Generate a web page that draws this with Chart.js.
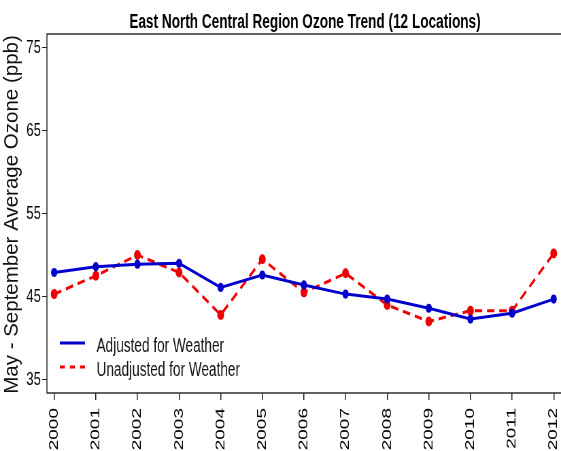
<!DOCTYPE html>
<html>
<head>
<meta charset="utf-8">
<script src="https://cdn.jsdelivr.net/npm/chart.js@4.4.1/dist/chart.umd.min.js"></script>
<style>
    html, body { margin: 0; padding: 0; overflow: hidden; background: #fff; }
    /* the original picture uses narrow lettering, so the chart is drawn wider and squeezed */
    #wrap { width: 897px; height: 451px; transform: scaleX(0.68); transform-origin: 0 0; }
</style>
</head>
<body>
<div id="wrap"><canvas id="ozoneChart" width="897" height="451"></canvas></div>
<script>
const years = [2000, 2001, 2002, 2003, 2004, 2005, 2006, 2007, 2008, 2009, 2010, 2011, 2012];
const adjusted = [47.9, 48.6, 48.9, 49.0, 46.1, 47.6, 46.4, 45.3, 44.7, 43.6, 42.3, 43.0, 44.7];
const unadjusted = [45.3, 47.5, 50.0, 47.9, 42.8, 49.5, 45.5, 47.8, 44.0, 42.0, 43.3, 43.3, 50.2];
const yTicks = [35, 45, 55, 65, 75];
const seriesLabels = ['Adjusted for Weather', 'Unadjusted for Weather'];
const yTitle = 'May - September Average Ozone (ppb)';

const squeeze = 0.68;
const fontFamily = '"Liberation Sans", Arial, sans-serif';

function toPoints(values) {
    return years.map((year, i) => ({ x: year, y: values[i] }));
}

// box round the plot (its right side falls outside the picture)
const frame = {
    id: 'frame',
    afterDraw(chart) {
        const { ctx, chartArea } = chart;
        ctx.save();
        ctx.strokeStyle = '#222';
        ctx.lineWidth = 1.4;
        ctx.strokeRect(chartArea.left, chartArea.top, chartArea.right - chartArea.left, chartArea.bottom - chartArea.top);
        ctx.restore();
    }
};

// y axis title, drawn unsqueezed since the original one is not narrow
const axisTitle = {
    id: 'axisTitle',
    afterDraw(chart) {
        const { ctx, chartArea } = chart;
        ctx.save();
        ctx.translate(17.5, (chartArea.top + chartArea.bottom) / 2 + 1);
        ctx.scale(1 / squeeze, 1);
        ctx.rotate(-Math.PI / 2);
        ctx.fillStyle = '#111';
        ctx.font = '20.5px ' + fontFamily;
        ctx.textAlign = 'center';
        ctx.textBaseline = 'middle';
        ctx.fillText(yTitle, 0, 0);
        ctx.restore();
    }
};

// legend inside the plot, lower left
const insideLegend = {
    id: 'insideLegend',
    afterDatasetsDraw(chart) {
        const { ctx, chartArea } = chart;
        ctx.save();
        chart.data.datasets.forEach((ds, i) => {
            const y = chartArea.bottom - 50 + i * 24;
            ctx.beginPath();
            ctx.strokeStyle = ds.borderColor;
            ctx.lineWidth = 3;
            ctx.setLineDash(i === 0 ? [] : [7.4, 7.4]);
            ctx.moveTo(chartArea.left + 19, y);
            ctx.lineTo(chartArea.left + 56, y);
            ctx.stroke();
            ctx.setLineDash([]);
            ctx.fillStyle = '#111';
            ctx.font = '20px ' + fontFamily;
            ctx.textBaseline = 'middle';
            ctx.fillText(ds.label, chartArea.left + 73, y + 3);
        });
        ctx.restore();
    }
};

new Chart(document.getElementById('ozoneChart'), {
    type: 'line',
    data: {
        datasets: [
            {
                label: seriesLabels[0],
                data: toPoints(adjusted),
                borderColor: '#0000cd',
                backgroundColor: '#0000cd',
                borderWidth: 3,
                pointRadius: 4.6,
                pointBorderWidth: 0,
                tension: 0
            },
            {
                label: seriesLabels[1],
                data: toPoints(unadjusted),
                borderColor: '#ee0000',
                backgroundColor: '#ee0000',
                borderWidth: 3,
                borderDash: [11, 7],
                pointRadius: 5,
                pointBorderWidth: 0,
                tension: 0
            }
        ]
    },
    options: {
        responsive: false,
        animation: false,
        layout: { padding: 0 },
        scales: {
            x: {
                type: 'linear',
                min: 1999.826,
                max: 2013.27,
                afterBuildTicks: axis => { axis.ticks = years.map(v => ({ value: v })); },
                afterFit: axis => { axis.height = 58; },
                border: { display: false },
                grid: {
                    drawOnChartArea: false,
                    drawTicks: true,
                    tickLength: 7,
                    color: '#222',
                    lineWidth: 1.5
                },
                ticks: {
                    autoSkip: false,
                    minRotation: 90,
                    maxRotation: 90,
                    padding: 8,
                    color: '#000',
                    font: { family: fontFamily, size: 19 },
                    callback: value => String(value)
                }
            },
            y: {
                min: 33.4,
                max: 76.6,
                afterBuildTicks: axis => { axis.ticks = yTicks.map(v => ({ value: v })); },
                afterFit: axis => { axis.width = 69; },
                border: { display: false },
                grid: {
                    drawOnChartArea: false,
                    drawTicks: true,
                    tickLength: 7,
                    color: '#222',
                    lineWidth: 1
                },
                ticks: {
                    padding: 2,
                    color: '#000',
                    font: { family: fontFamily, size: 19 },
                    callback: value => String(value)
                }
            }
        },
        plugins: {
            legend: { display: false },
            tooltip: { enabled: false },
            title: {
                display: true,
                text: 'East North Central Region Ozone Trend (12 Locations)',
                color: '#000',
                padding: { top: 10, bottom: 0 },
                font: { family: fontFamily, size: 20, weight: 'bold' }
            }
        }
    },
    plugins: [frame, axisTitle, insideLegend]
});
</script>
</body>
</html>
